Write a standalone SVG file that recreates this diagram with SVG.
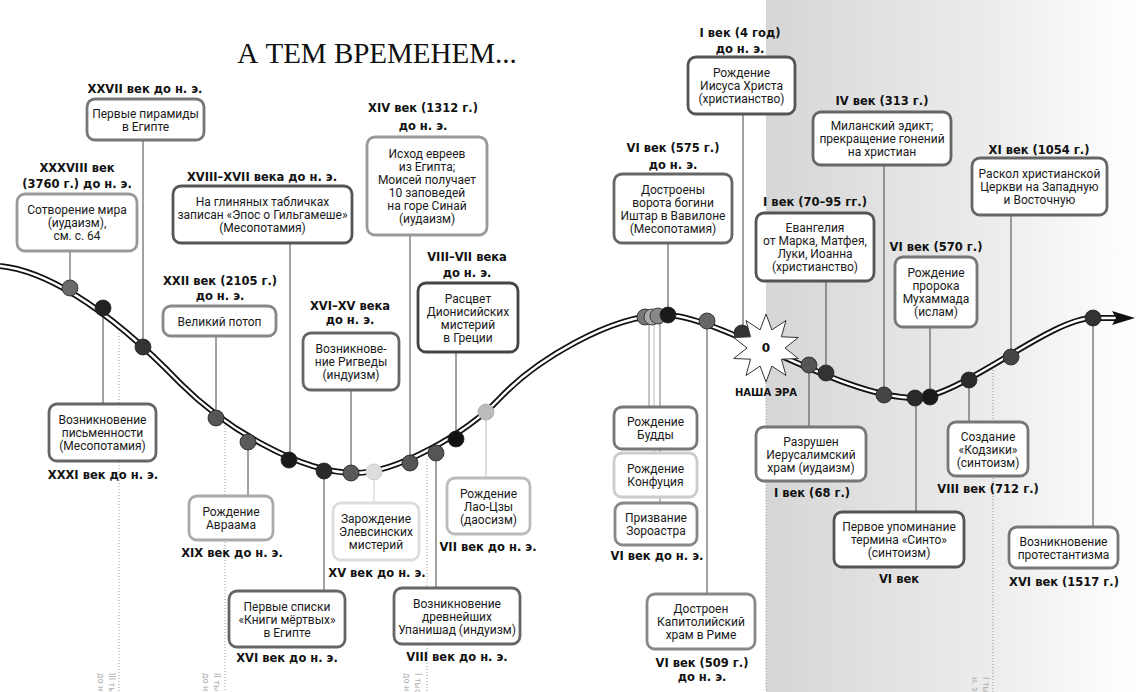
<svg xmlns="http://www.w3.org/2000/svg" width="1137" height="692" viewBox="0 0 1137 692">
<style>
.box{fill:#fff;stroke-width:2.8}
.bt{font-family:Roboto,"Liberation Sans",sans-serif;font-size:12px;fill:#1a1a1a;text-anchor:middle}
.lb{font-family:"DejaVu Sans",Verdana,sans-serif;font-weight:bold;font-size:11.5px;fill:#111;text-anchor:middle}
.cn{stroke:#444;stroke-width:1;fill:none}
.dt{stroke:#999;stroke-width:1;stroke-dasharray:1 2;fill:none}
.dot{stroke:#222;stroke-width:0.8}
.era{font-family:"DejaVu Sans",Verdana,sans-serif;font-size:8px;fill:#aaa}
</style>
<defs>
<linearGradient id="bg" x1="0" y1="0" x2="1" y2="0">
<stop offset="0" stop-color="#d6d6d6"/>
<stop offset="0.6" stop-color="#ececec"/>
<stop offset="1" stop-color="#ffffff"/>
</linearGradient>
</defs>
<rect x="0" y="0" width="1137" height="692" fill="#fff"/>
<rect x="766" y="0" width="371" height="692" fill="url(#bg)"/>
<text x="377" y="63" font-family="'Liberation Serif',serif" font-size="29" text-anchor="middle" fill="#111">А ТЕМ ВРЕМЕНЕМ...</text>

<g id="grid">
<line class="dt" x1="119" y1="327" x2="119" y2="692"/>
<line class="dt" x1="225" y1="425" x2="225" y2="692"/>
<line class="dt" x1="427" y1="459" x2="427" y2="692"/>
<line class="dt" x1="766" y1="380" x2="766" y2="692"/>
<line class="dt" x1="993" y1="370" x2="993" y2="692"/>
<text class="era" transform="translate(109,673) rotate(90)">III тыс.</text>
<text class="era" transform="translate(98,673) rotate(90)">до н. э.</text>
<text class="era" transform="translate(214,673) rotate(90)">II тыс.</text>
<text class="era" transform="translate(203,673) rotate(90)">до н. э.</text>
<text class="era" transform="translate(415,673) rotate(90)">I тыс.</text>
<text class="era" transform="translate(404,673) rotate(90)">до н. э.</text>
<text class="era" transform="translate(983,677) rotate(90)">I тыс.</text>
<text class="era" transform="translate(972,677) rotate(90)">н. э.</text>
</g>

<g id="connectors">
<line class="cn" x1="143" y1="140" x2="143" y2="347"/>
<line class="cn" x1="70" y1="251" x2="70" y2="288"/>
<line class="cn" x1="290" y1="243" x2="290" y2="460"/>
<line class="cn" x1="216" y1="336" x2="216" y2="418"/>
<line class="cn" x1="351" y1="390" x2="351" y2="473"/>
<line class="cn" x1="410" y1="235" x2="410" y2="463"/>
<line class="cn" x1="456" y1="352" x2="456" y2="439"/>
<line class="cn" x1="103" y1="308" x2="103" y2="404"/>
<line class="cn" x1="248" y1="442" x2="248" y2="496"/>
<line class="cn" x1="324" y1="471" x2="324" y2="591"/>
<line class="cn" x1="374" y1="472" x2="374" y2="503" style="stroke:#ccc"/>
<line class="cn" x1="486" y1="412" x2="486" y2="478" style="stroke:#bbb"/>
<line class="cn" x1="436" y1="453" x2="436" y2="588"/>
<line class="cn" x1="743" y1="114" x2="743" y2="333"/>
<line class="cn" x1="668" y1="243" x2="668" y2="315"/>
<line class="cn" x1="826" y1="281" x2="826" y2="373"/>
<line class="cn" x1="884" y1="165" x2="884" y2="395"/>
<line class="cn" x1="1011" y1="215" x2="1011" y2="357"/>
<line class="cn" x1="930" y1="327" x2="930" y2="397"/>
<line class="cn" x1="649" y1="317" x2="649" y2="407" style="stroke:#888"/>
<line class="cn" x1="654" y1="317" x2="654" y2="453" style="stroke:#bbb"/>
<line class="cn" x1="660" y1="317" x2="660" y2="503" style="stroke:#777"/>
<line class="cn" x1="707" y1="322" x2="707" y2="594"/>
<line class="cn" x1="809" y1="365" x2="809" y2="427"/>
<line class="cn" x1="916" y1="398" x2="916" y2="512"/>
<line class="cn" x1="969" y1="380" x2="969" y2="422"/>
<line class="cn" x1="1093" y1="318" x2="1093" y2="527"/>
</g>

<g id="timeline">
<path d="M0,266 C40,270 100,300 180,383 C225,428 300,473 355,473 C395,473 465,435 500,398 C535,361 610,315 665,315 C720,315 840,398 915,398 C960,398 1050,318 1093,318 L1118,318" fill="none" stroke="#111" stroke-width="6"/>
<path d="M0,266 C40,270 100,300 180,383 C225,428 300,473 355,473 C395,473 465,435 500,398 C535,361 610,315 665,315 C720,315 840,398 915,398 C960,398 1050,318 1093,318 L1116,318" fill="none" stroke="#fff" stroke-width="2.4"/>
<polygon points="1112,311 1135,318 1112,325 1116,318" fill="#111"/>
</g>

<g id="dots">
<circle class="dot" cx="70" cy="288" r="8" fill="#6a6a6a"/>
<circle class="dot" cx="103" cy="308" r="8" fill="#222"/>
<circle class="dot" cx="143" cy="347" r="8" fill="#333"/>
<circle class="dot" cx="216" cy="418" r="8" fill="#555"/>
<circle class="dot" cx="248" cy="442" r="8" fill="#5a5a5a"/>
<circle class="dot" cx="289" cy="460" r="8" fill="#1a1a1a"/>
<circle class="dot" cx="324" cy="471" r="8" fill="#2a2a2a"/>
<circle class="dot" cx="351" cy="473" r="8" fill="#5a5a5a"/>
<circle class="dot" cx="374" cy="472" r="8" fill="#ddd" style="stroke:#ccc"/>
<circle class="dot" cx="410" cy="463" r="8" fill="#555"/>
<circle class="dot" cx="436" cy="453" r="8" fill="#555"/>
<circle class="dot" cx="456" cy="439" r="8" fill="#111"/>
<circle class="dot" cx="486" cy="412" r="8" fill="#bbb" style="stroke:#aaa"/>
<circle class="dot" cx="645" cy="317" r="8" fill="#777"/>
<circle class="dot" cx="652" cy="317" r="8" fill="#aaa"/>
<circle class="dot" cx="658" cy="316" r="8" fill="#888"/>
<circle class="dot" cx="668" cy="315" r="8" fill="#1a1a1a"/>
<circle class="dot" cx="707" cy="321" r="8" fill="#666"/>
<circle class="dot" cx="742" cy="333" r="8" fill="#333"/>
<circle class="dot" cx="809" cy="365" r="8" fill="#555"/>
<circle class="dot" cx="826" cy="373" r="8" fill="#333"/>
<circle class="dot" cx="884" cy="395" r="8" fill="#444"/>
<circle class="dot" cx="915" cy="398" r="8" fill="#2a2a2a"/>
<circle class="dot" cx="930" cy="397" r="8" fill="#1a1a1a"/>
<circle class="dot" cx="969" cy="380" r="8" fill="#2a2a2a"/>
<circle class="dot" cx="1011" cy="357" r="8" fill="#444"/>
<circle class="dot" cx="1093" cy="318" r="8" fill="#333"/>
</g>

<g id="era-zero">
<polygon points="766,314 771.9,329.9 786,320.5 781.4,336.8 798.3,337.5 785,348 798.3,358.5 781.4,359.2 786,375.5 771.9,366.1 766,382 760.1,366.1 746,375.5 750.6,359.2 733.7,358.5 747,348 733.7,337.5 750.6,336.8 746,320.5 760.1,329.9" fill="#fff" stroke="#333" stroke-width="1"/>
<text x="766" y="352" class="lb" style="font-size:12px">0</text>
<text x="766" y="396" class="lb" style="font-size:10px">НАША ЭРА</text>
</g>

<g id="n1"><text class="lb" x="145" y="93">XXVII век до н. э.</text><rect class="box" x="87" y="99" width="117" height="41" rx="8" stroke="#777"/><text class="bt" x="145.5" y="117.5">Первые пирамиды</text><text class="bt" x="145.5" y="130.5">в Египте</text></g>
<g id="n2"><text class="lb" x="77" y="172">XXXVIII век</text><text class="lb" x="77" y="188">(3760 г.) до н. э.</text><rect class="box" x="17" y="194" width="120" height="57" rx="8" stroke="#999"/><text class="bt" x="77" y="214">Сотворение мира</text><text class="bt" x="77" y="227">(иудаизм),</text><text class="bt" x="77" y="240">см. с. 64</text></g>
<g id="n3"><text class="lb" x="262" y="181">XVIII–XVII века до н. э.</text><rect class="box" x="173" y="186" width="179" height="57" rx="8" stroke="#555"/><text class="bt" x="262.5" y="206">На глиняных табличках</text><text class="bt" x="262.5" y="219">записан «Эпос о Гильгамеше»</text><text class="bt" x="262.5" y="232">(Месопотамия)</text></g>
<g id="n4"><text class="lb" x="220" y="285">XXII век (2105 г.)</text><text class="lb" x="220" y="300">до н. э.</text><rect class="box" x="163" y="306" width="113" height="30" rx="8" stroke="#888"/><text class="bt" x="219.5" y="325.5">Великий потоп</text></g>
<g id="n5"><text class="lb" x="350" y="310">XVI–XV века</text><text class="lb" x="350" y="324">до н. э.</text><rect class="box" x="303" y="333" width="96" height="57" rx="8" stroke="#666"/><text class="bt" x="351" y="353">Возникнове-</text><text class="bt" x="351" y="366">ние Ригведы</text><text class="bt" x="351" y="379">(индуизм)</text></g>
<g id="n6"><text class="lb" x="423" y="112">XIV век (1312 г.)</text><text class="lb" x="423" y="130">до н. э.</text><rect class="box" x="367" y="137" width="120" height="98" rx="8" stroke="#999"/><text class="bt" x="427" y="158">Исход евреев</text><text class="bt" x="427" y="171">из Египта;</text><text class="bt" x="427" y="184">Моисей получает</text><text class="bt" x="427" y="197">10 заповедей</text><text class="bt" x="427" y="210">на горе Синай</text><text class="bt" x="427" y="223">(иудаизм)</text></g>
<g id="n7"><text class="lb" x="467" y="261">VIII–VII века</text><text class="lb" x="467" y="277">до н. э.</text><rect class="box" x="418" y="283" width="100" height="69" rx="8" stroke="#444"/><text class="bt" x="468" y="302.5">Расцвет</text><text class="bt" x="468" y="315.5">Дионисийских</text><text class="bt" x="468" y="328.5">мистерий</text><text class="bt" x="468" y="341.5">в Греции</text></g>
<g id="n8"><rect class="box" x="49" y="404" width="107" height="57" rx="8" stroke="#666"/><text class="bt" x="102.5" y="424">Возникновение</text><text class="bt" x="102.5" y="437">письменности</text><text class="bt" x="102.5" y="450">(Месопотамия)</text><text class="lb" x="103" y="479">XXXI век до н. э.</text></g>
<g id="n9"><rect class="box" x="189" y="496" width="84" height="44" rx="8" stroke="#aaa"/><text class="bt" x="231" y="516">Рождение</text><text class="bt" x="231" y="529">Авраама</text><text class="lb" x="232" y="557">XIX век до н. э.</text></g>
<g id="n10"><rect class="box" x="229" y="591" width="116" height="56" rx="8" stroke="#666"/><text class="bt" x="287" y="610.5">Первые списки</text><text class="bt" x="287" y="623.5">«Книги мёртвых»</text><text class="bt" x="287" y="636.5">в Египте</text><text class="lb" x="287" y="662">XVI век до н. э.</text></g>
<g id="n11"><rect class="box" x="333" y="503" width="86" height="57" rx="8" stroke="#ddd"/><text class="bt" x="376" y="523">Зарождение</text><text class="bt" x="376" y="536">Элевсинских</text><text class="bt" x="376" y="549">мистерий</text><text class="lb" x="377" y="577">XV век до н. э.</text></g>
<g id="n12"><rect class="box" x="447" y="478" width="83" height="56" rx="8" stroke="#bbb"/><text class="bt" x="488.5" y="497.5">Рождение</text><text class="bt" x="488.5" y="510.5">Лао-Цзы</text><text class="bt" x="488.5" y="523.5">(даосизм)</text><text class="lb" x="488" y="551">VII век до н. э.</text></g>
<g id="n13"><rect class="box" x="394" y="588" width="126" height="56" rx="8" stroke="#666"/><text class="bt" x="457" y="607.5">Возникновение</text><text class="bt" x="457" y="620.5">древнейших</text><text class="bt" x="457" y="633.5">Упанишад (индуизм)</text><text class="lb" x="457" y="661">VIII век до н. э.</text></g>
<g id="n14"><text class="lb" x="740" y="37">I век (4 год)</text><text class="lb" x="740" y="53">до н. э.</text><rect class="box" x="688" y="57" width="107" height="57" rx="8" stroke="#555"/><text class="bt" x="741.5" y="77">Рождение</text><text class="bt" x="741.5" y="90">Иисуса Христа</text><text class="bt" x="741.5" y="103">(христианство)</text></g>
<g id="n15"><text class="lb" x="673" y="152">VI век (575 г.)</text><text class="lb" x="673" y="169">до н. э.</text><rect class="box" x="614" y="174" width="118" height="69" rx="8" stroke="#666"/><text class="bt" x="673" y="193.5">Достроены</text><text class="bt" x="673" y="206.5">ворота богини</text><text class="bt" x="673" y="219.5">Иштар в Вавилоне</text><text class="bt" x="673" y="232.5">(Месопотамия)</text></g>
<g id="n16"><text class="lb" x="815" y="206">I век (70–95 гг.)</text><rect class="box" x="756" y="213" width="118" height="68" rx="8" stroke="#555"/><text class="bt" x="815" y="232">Евангелия</text><text class="bt" x="815" y="245">от Марка, Матфея,</text><text class="bt" x="815" y="258">Луки, Иоанна</text><text class="bt" x="815" y="271">(христианство)</text></g>
<g id="n17"><text class="lb" x="882" y="105">IV век (313 г.)</text><rect class="box" x="813" y="112" width="138" height="53" rx="8" stroke="#666"/><text class="bt" x="882" y="130">Миланский эдикт;</text><text class="bt" x="882" y="143">прекращение гонений</text><text class="bt" x="882" y="156">на христиан</text></g>
<g id="n18"><text class="lb" x="1039" y="154">XI век (1054 г.)</text><rect class="box" x="972" y="158" width="135" height="57" rx="8" stroke="#666"/><text class="bt" x="1039.5" y="178">Раскол христианской</text><text class="bt" x="1039.5" y="191">Церкви на Западную</text><text class="bt" x="1039.5" y="204">и Восточную</text></g>
<g id="n19"><text class="lb" x="936" y="251">VI век (570 г.)</text><rect class="box" x="895" y="257" width="82" height="70" rx="8" stroke="#777"/><text class="bt" x="936" y="277">Рождение</text><text class="bt" x="936" y="290">пророка</text><text class="bt" x="936" y="303">Мухаммада</text><text class="bt" x="936" y="316">(ислам)</text></g>
<g id="n20"><rect class="box" x="614" y="407" width="83" height="42" rx="8" stroke="#777"/><text class="bt" x="655.5" y="426">Рождение</text><text class="bt" x="655.5" y="439">Будды</text></g>
<g id="n21"><rect class="box" x="614" y="453" width="83" height="44" rx="8" stroke="#ccc"/><text class="bt" x="655.5" y="473">Рождение</text><text class="bt" x="655.5" y="486">Конфуция</text></g>
<g id="n22"><rect class="box" x="615" y="503" width="82" height="42" rx="8" stroke="#888"/><text class="bt" x="656" y="522">Призвание</text><text class="bt" x="656" y="535">Зороастра</text><text class="lb" x="657" y="560">VI век до н. э.</text></g>
<g id="n23"><rect class="box" x="647" y="594" width="108" height="55" rx="8" stroke="#888"/><text class="bt" x="701" y="613">Достроен</text><text class="bt" x="701" y="626">Капитолийский</text><text class="bt" x="701" y="639">храм в Риме</text><text class="lb" x="702" y="667">VI век (509 г.)</text><text class="lb" x="702" y="681">до н. э.</text></g>
<g id="n24"><rect class="box" x="756" y="427" width="110" height="54" rx="8" stroke="#777"/><text class="bt" x="811" y="445.5">Разрушен</text><text class="bt" x="811" y="458.5">Иерусалимский</text><text class="bt" x="811" y="471.5">храм (иудаизм)</text><text class="lb" x="812" y="497">I век (68 г.)</text></g>
<g id="n25"><rect class="box" x="834" y="512" width="130" height="55" rx="8" stroke="#555"/><text class="bt" x="899" y="531">Первое упоминание</text><text class="bt" x="899" y="544">термина «Синто»</text><text class="bt" x="899" y="557">(синтоизм)</text><text class="lb" x="899" y="583">VI век</text></g>
<g id="n26"><rect class="box" x="948" y="422" width="80" height="54" rx="8" stroke="#777"/><text class="bt" x="988" y="440.5">Создание</text><text class="bt" x="988" y="453.5">«Кодзики»</text><text class="bt" x="988" y="466.5">(синтоизм)</text><text class="lb" x="988" y="493">VIII век (712 г.)</text></g>
<g id="n27"><rect class="box" x="1009" y="527" width="109" height="41" rx="8" stroke="#777"/><text class="bt" x="1063.5" y="545.5">Возникновение</text><text class="bt" x="1063.5" y="558.5">протестантизма</text><text class="lb" x="1064" y="586">XVI век (1517 г.)</text></g>
</svg>
